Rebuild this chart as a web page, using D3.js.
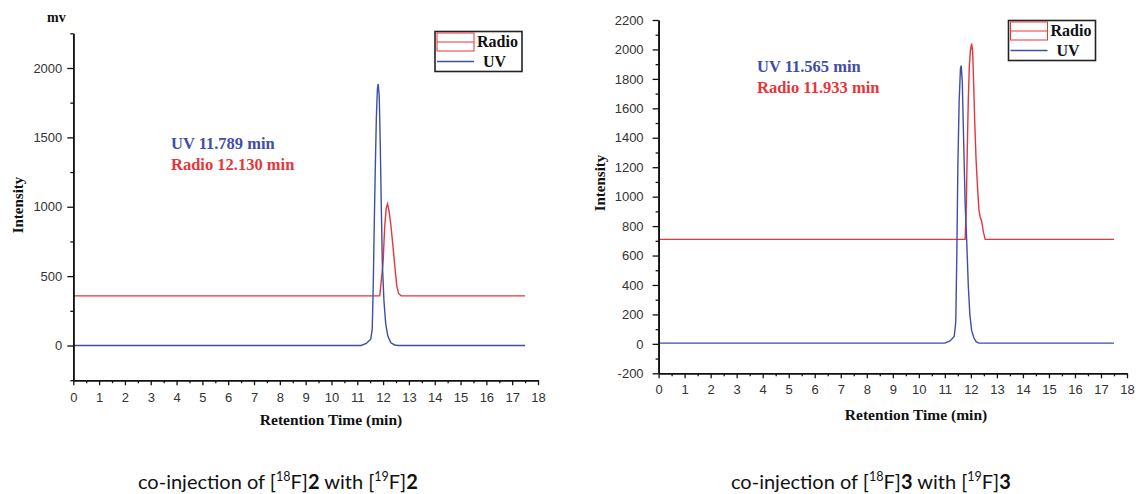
<!DOCTYPE html>
<html>
<head>
<meta charset="utf-8" />
<title>Co-injection HPLC chromatograms</title>
<script src="https://cdnjs.cloudflare.com/ajax/libs/d3/7.8.5/d3.min.js"></script>
<style>
body { margin: 0; background: #fff; }
.serif { font-family: "Liberation Serif", "Times New Roman", serif; font-weight: bold; fill: #111; }
.tick text { font-family: "Liberation Sans", Arial, sans-serif; font-size: 13px; fill: #333; }
.domain { stroke: #111; stroke-width: 1.6; }
.tick line { stroke: #111; stroke-width: 1.3; }
.caption { font-family: Lato, "Open Sans", sans-serif; font-size: 20px; fill: #111; }
</style>
</head>
<body>
<svg id="chart" width="1136" height="494"></svg>
<script>
// tick values
const xTickValues = [0,1,2,3,4,5,6,7,8,9,10,11,12,13,14,15,16,17,18];
const xMinorTicks = [0.5,1.5,2.5,3.5,4.5,5.5,6.5,7.5,8.5,9.5,10.5,11.5,12.5,13.5,14.5,15.5,16.5,17.5];
const leftYTicks = [0,500,1000,1500,2000];
const leftYMinor = [-250,250,750,1250,1750,2250];
const rightYTicks = [-200,0,200,400,600,800,1000,1200,1400,1600,1800,2000,2200];
const rightYMinor = [-100,100,300,500,700,900,1100,1300,1500,1700,1900,2100];

// [18F]2 / [19F]2 traces (min, mV)
const uvTime2 = [0,11.15,11.35,11.52,11.58,11.62,11.66,11.7,11.74,11.78,11.81,11.85,11.89,11.93,11.97,12.03,12.1,12.18,12.3,12.45,12.58,17.5];
const uvSignal2 = [0,0,15,45,120,450,900,1300,1650,1850,1885,1800,1450,1000,600,330,160,70,20,4,0,0];
const radioTime2 = [0,11.87,11.92,12.0,12.06,12.12,12.17,12.23,12.3,12.38,12.46,12.53,12.6,12.7,17.5];
const radioSignal2 = [358,358,450,600,850,990,1020,970,870,720,560,430,375,358,358];

// [18F]3 / [19F]3 traces (min, mV)
const uvTime3 = [0,11.0,11.2,11.36,11.42,11.46,11.5,11.55,11.6,11.63,11.67,11.72,11.78,11.84,11.9,11.96,12.03,12.12,12.2,12.31,17.5];
const uvSignal3 = [5,5,20,50,150,600,1200,1650,1870,1890,1780,1400,950,700,400,200,90,40,15,5,5];
const radioTime3 = [0,11.78,11.82,11.86,11.9,11.94,11.98,12.03,12.07,12.11,12.15,12.2,12.26,12.31,12.36,12.42,12.48,12.55,17.5];
const radioSignal3 = [710,710,900,1300,1650,1880,1990,2040,1980,1750,1500,1250,1050,910,860,830,760,710,710];

const peakLabels2 = ["UV 11.789 min", "Radio 12.130 min"];
const peakLabels3 = ["UV 11.565 min", "Radio 11.933 min"];
const legendNames = ["Radio", "UV"];

const blue = "#3f4fa6";
const red = "#e8353a";

const svg = d3.select("#chart");

function drawPanel(p) {
	let g = svg.append("g");
	let x = d3.scaleLinear().domain([0, 18]).range(p.xRange);
	let y = d3.scaleLinear().domain(p.yDomain).range(p.yRange);
	let line = d3.line().x(d => x(d[0])).y(d => y(d[1]));

	g.append("path")
		.datum(d3.zip(p.radioTime, p.radioSignal))
		.attr("d", line)
		.attr("fill", "none")
		.attr("stroke", red)
		.attr("stroke-width", 1.4);
	g.append("path")
		.datum(d3.zip(p.uvTime, p.uvSignal))
		.attr("d", line)
		.attr("fill", "none")
		.attr("stroke", blue)
		.attr("stroke-width", 1.4);

	// x axis
	let base = p.yRange[0];
	g.append("g")
		.attr("transform", `translate(0,${base})`)
		.call(d3.axisBottom(x).tickValues(xMinorTicks).tickSize(3).tickSizeOuter(0).tickFormat(""));
	g.append("g")
		.attr("transform", `translate(0,${base})`)
		.call(d3.axisBottom(x).tickValues(xTickValues).tickSize(5).tickSizeOuter(0).tickPadding(p.xPad));

	// y axis
	let left = p.xRange[0];
	g.append("g")
		.attr("transform", `translate(${left},0)`)
		.call(d3.axisLeft(y).tickValues(p.yMinor).tickSize(3).tickSizeOuter(0).tickFormat(""));
	g.append("g")
		.attr("transform", `translate(${left},0)`)
		.call(d3.axisLeft(y).tickValues(p.yTicks).tickSize(6).tickSizeOuter(0).tickPadding(p.yPad).tickFormat(d => String(d)));

	// axis titles
	g.append("text").attr("class", "serif")
		.attr("x", p.xTitle[0]).attr("y", p.xTitle[1])
		.attr("text-anchor", "middle").attr("font-size", 15.5)
		.text("Retention Time (min)");
	g.append("text").attr("class", "serif")
		.attr("transform", `translate(${p.yTitle[0]},${p.yTitle[1]}) rotate(-90)`)
		.attr("text-anchor", "middle").attr("font-size", 15)
		.text("Intensity");

	// peak annotations
	g.append("text").attr("class", "serif")
		.attr("x", p.note[0]).attr("y", p.note[1])
		.attr("font-size", 16.5).style("fill", blue)
		.text(p.labels[0]);
	g.append("text").attr("class", "serif")
		.attr("x", p.note[0]).attr("y", p.note[1] + 21)
		.attr("font-size", 16.5).style("fill", red)
		.text(p.labels[1]);

	// legend
	let lg = g.append("g").attr("transform", `translate(${p.legend[0]},${p.legend[1]})`);
	lg.append("rect").attr("x", 0).attr("y", 0).attr("width", 87).attr("height", 40)
		.attr("fill", "#fff").attr("stroke", "#222").attr("stroke-width", 1.6);
	lg.append("rect").attr("x", 2).attr("y", 1.5).attr("width", 37).attr("height", 18)
		.attr("fill", "none").attr("stroke", red).attr("stroke-width", 1);
	lg.append("line").attr("x1", 2).attr("x2", 39).attr("y1", 10.5).attr("y2", 10.5)
		.attr("stroke", red).attr("stroke-width", 1);
	lg.append("line").attr("x1", 2).attr("x2", 39).attr("y1", 30).attr("y2", 30)
		.attr("stroke", blue).attr("stroke-width", 1.4);
	lg.append("text").attr("class", "serif").attr("x", 42).attr("y", 15.5)
		.attr("font-size", 16).text(legendNames[0]);
	lg.append("text").attr("class", "serif").attr("x", 48).attr("y", 35.5)
		.attr("font-size", 16).text(legendNames[1]);

	// caption
	let cap = g.append("text").attr("class", "caption").attr("x", p.caption[0]).attr("y", p.caption[1]);
	cap.append("tspan").text("co-injection of [");
	cap.append("tspan").attr("font-size", 12.5).attr("dy", -8).text("18");
	cap.append("tspan").attr("dy", 8).text("F]");
	cap.append("tspan").attr("font-weight", "bold").text(p.compound);
	cap.append("tspan").text(" with [");
	cap.append("tspan").attr("font-size", 12.5).attr("dy", -8).text("19");
	cap.append("tspan").attr("dy", 8).text("F]");
	cap.append("tspan").attr("font-weight", "bold").text(p.compound);
}

drawPanel({
	xRange: [73.3, 538], yDomain: [-250, 2250], yRange: [380.2, 33.3],
	yTicks: leftYTicks, yMinor: leftYMinor, xPad: 8, yPad: 5,
	uvTime: uvTime2, uvSignal: uvSignal2, radioTime: radioTime2, radioSignal: radioSignal2,
	xTitle: [331, 425], yTitle: [23, 205], note: [171, 149], labels: peakLabels2,
	legend: [435, 31.5], caption: [138, 489], compound: "2"
});

drawPanel({
	xRange: [658.6, 1127], yDomain: [-200, 2200], yRange: [373.3, 20],
	yTicks: rightYTicks, yMinor: rightYMinor, xPad: 6, yPad: 9,
	uvTime: uvTime3, uvSignal: uvSignal3, radioTime: radioTime3, radioSignal: radioSignal3,
	xTitle: [916, 420], yTitle: [605, 183], note: [757, 72], labels: peakLabels3,
	legend: [1008.5, 20.5], caption: [731, 489], compound: "3"
});

svg.append("text").attr("class", "serif")
	.attr("x", 47).attr("y", 22).attr("font-size", 14)
	.text("mv");
</script>
</body>
</html>
